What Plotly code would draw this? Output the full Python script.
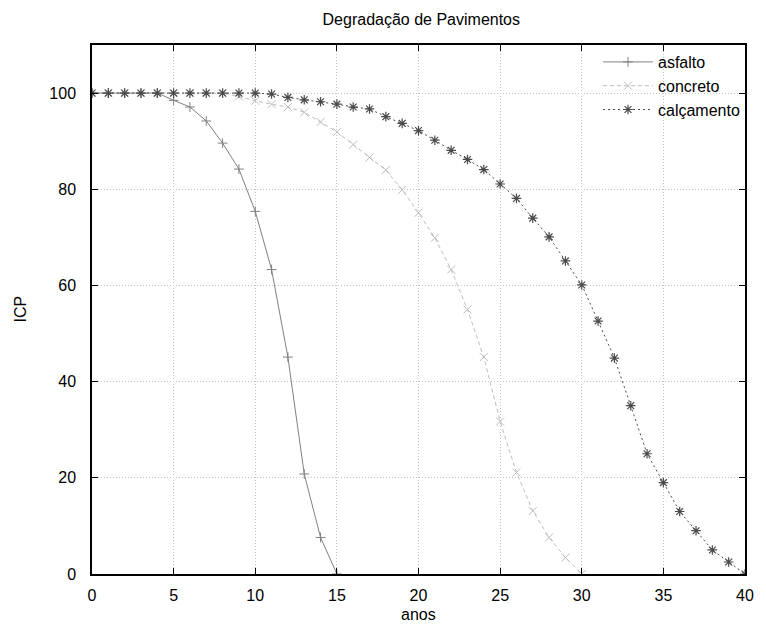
import plotly.graph_objects as go

# ---- data ----
anos_asfalto = list(range(0, 16))
icp_asfalto = [100, 100, 100, 100, 100, 98.5, 97.1, 94.2, 89.6, 84.2, 75.4, 63.3, 45.1, 20.8, 7.6, 0]

anos_concreto = list(range(0, 31))
icp_concreto = [100, 100, 100, 100, 100, 100, 100, 100, 100, 99.3, 98.4, 97.7, 97.1, 96.0, 94.0,
                91.9, 89.3, 86.6, 84.0, 79.9, 75.1, 69.9, 63.3, 55.0, 45.1, 31.7, 21.1, 13.1,
                7.6, 3.4, 0]

anos_calcamento = list(range(0, 41))
icp_calcamento = [100, 100, 100, 100, 100, 100, 100, 100, 100, 100, 100, 99.8, 99.1, 98.6, 98.2,
                  97.7, 97.1, 96.7, 95.1, 93.7, 92.2, 90.2, 88.1, 86.2, 84.1, 81.1, 78.1, 74.0,
                  70.1, 65.1, 60.1, 52.6, 44.9, 35.0, 25.0, 19.0, 13.0, 9.0, 5.0, 2.5, 0]

x_ticks = [0, 5, 10, 15, 20, 25, 30, 35, 40]
y_ticks = [0, 20, 40, 60, 80, 100]

titulo = "Degradação de Pavimentos"
rotulo_x = "anos"
rotulo_y = "ICP"

FONT = "Liberation Sans, Arial, sans-serif"

fig = go.Figure()
fig.add_trace(go.Scatter(
    x=anos_asfalto, y=icp_asfalto, name="asfalto", mode="lines+markers",
    line=dict(color="#808080", width=1),
    marker=dict(symbol="cross-thin-open", size=7, color="#808080",
                line=dict(color="#808080", width=1)),
))
fig.add_trace(go.Scatter(
    x=anos_concreto, y=icp_concreto, name="concreto", mode="lines+markers",
    line=dict(color="#bdbdbd", width=1, dash="4px,3px"),
    marker=dict(symbol="x-thin-open", size=8, color="#bdbdbd",
                line=dict(color="#bdbdbd", width=1)),
))
fig.add_trace(go.Scatter(
    x=anos_calcamento, y=icp_calcamento, name="calçamento", mode="lines+markers",
    line=dict(color="#4a4a4a", width=1, dash="2px,3px"),
    marker=dict(symbol="asterisk-open", size=8, color="#4a4a4a",
                line=dict(color="#4a4a4a", width=1.2)),
))

axis_common = dict(
    showline=True, linecolor="#000000", linewidth=1.5, mirror="ticks",
    ticks="inside", ticklen=6, tickwidth=1, tickcolor="#000000",
    showgrid=True, gridcolor="#c4c4c4", griddash="1px,2px", gridwidth=1,
    zeroline=False, tickfont=dict(family=FONT, size=16, color="#000000"),
)

fig.update_layout(
    width=766, height=624,
    margin=dict(l=92, r=14, t=45, b=50),
    paper_bgcolor="white", plot_bgcolor="white",
    font=dict(family=FONT, size=16, color="#000000"),
    title=dict(text=titulo, x=0.55, xanchor="center", y=1 - 19 / 624, yanchor="middle",
               yref="container", font=dict(family=FONT, size=16, color="#000000")),
    xaxis=dict(range=[0, 40], tickvals=x_ticks, ticklabelstandoff=6, **axis_common),
    yaxis=dict(range=[0, 110], tickvals=y_ticks, ticklabelstandoff=11, **axis_common),
    showlegend=True,
    legend=dict(x=1, xanchor="right", y=1, yanchor="top", bgcolor="rgba(0,0,0,0)",
                font=dict(family=FONT, size=16), itemwidth=50, tracegroupgap=0),
    annotations=[
        dict(text=rotulo_x, xref="paper", yref="paper", x=0.5, y=0, yanchor="middle",
             yshift=-40, showarrow=False, font=dict(family=FONT, size=16)),
        dict(text=rotulo_y, xref="paper", yref="paper", x=0, y=0.5, xanchor="center",
             xshift=-72, textangle=-90, showarrow=False, font=dict(family=FONT, size=16)),
    ],
)

fig.write_html("out.html")
